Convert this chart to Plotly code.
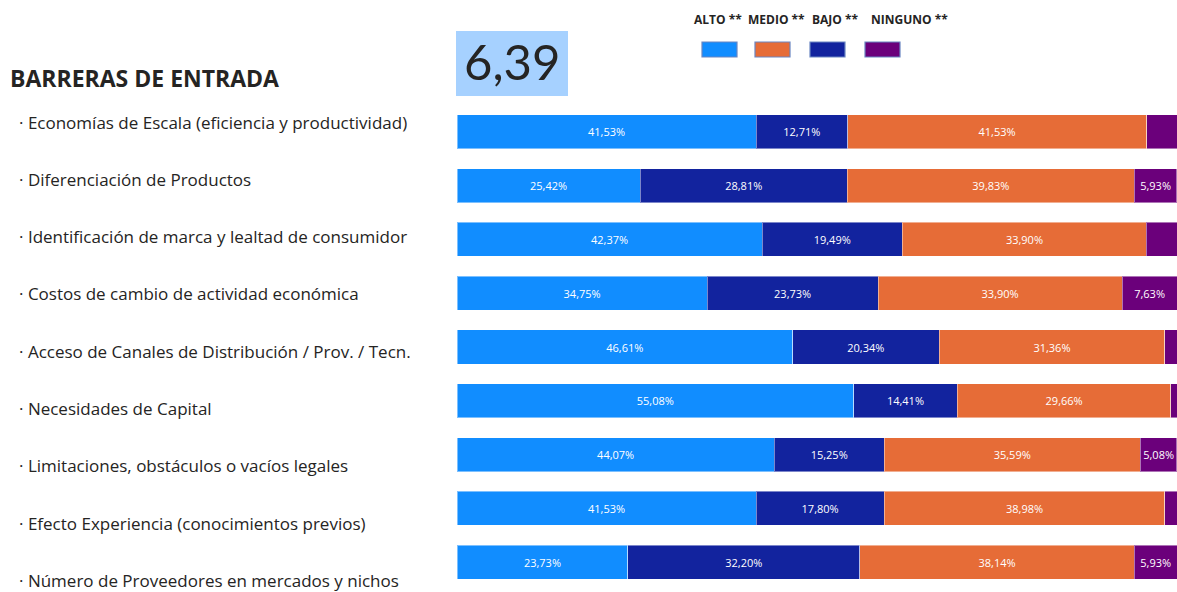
import plotly.graph_objects as go

# ---------------- data ----------------
categories = [
    "Economías de Escala (eficiencia y productividad)",
    "Diferenciación de Productos",
    "Identificación de marca y lealtad de consumidor",
    "Costos de cambio de actividad económica",
    "Acceso de Canales de Distribución / Prov. / Tecn.",
    "Necesidades de Capital",
    "Limitaciones, obstáculos o vacíos legales",
    "Efecto Experiencia (conocimientos previos)",
    "Número de Proveedores en mercados y nichos",
]
alto = [41.53, 25.42, 42.37, 34.75, 46.61, 55.08, 44.07, 41.53, 23.73]
bajo = [12.71, 28.81, 19.49, 23.73, 20.34, 14.41, 15.25, 17.80, 32.20]
medio = [41.53, 39.83, 33.90, 33.90, 31.36, 29.66, 35.59, 38.98, 38.14]
ninguno = [4.23, 5.93, 4.24, 7.63, 1.69, 0.85, 5.08, 1.69, 5.93]
series_names = ["ALTO **", "BAJO **", "MEDIO **", "NINGUNO **"]
legend_order = ["ALTO **", "MEDIO **", "BAJO **", "NINGUNO **"]
title_text = "BARRERAS DE ENTRADA"
kpi_value = "6,39"

# ---------------- style ----------------
W, HGT = 1177, 592
L, R, T, B = 457, 0, 105, 3
PW, PH = W - L - R, HGT - T - B
colors = {"ALTO **": "#118DFF", "BAJO **": "#12239E", "MEDIO **": "#E66C37", "NINGUNO **": "#6B007B"}
FONT = "Open Sans"
TEXT_COLOR = "#252423"


def fx(px):
    return (px - L) / PW


def fy(py):
    return (HGT - B - py) / PH


def fmt(v):
    return (f"{v:.2f}%".replace(".", ",")) if v >= 5 else ""


fig = go.Figure()
for name, vals in zip(series_names, [alto, bajo, medio, ninguno]):
    fig.add_trace(go.Bar(
        y=categories, x=vals, orientation="h", name=name,
        marker=dict(color=colors[name], line=dict(color="rgba(255,255,255,0.45)", width=1)),
        text=[fmt(v) for v in vals], textposition="inside", insidetextanchor="middle",
        textangle=0, constraintext="none",
        textfont=dict(family=FONT, size=11, color="white"),
        width=0.633, showlegend=False, hoverinfo="skip",
    ))

annotations = []
shapes = []
# category labels on the left
for i, c in enumerate(categories):
    py = 122 + i * 57.3
    annotations.append(dict(
        xref="paper", yref="paper", x=fx(17), y=fy(py), xanchor="left", yanchor="middle",
        text="· " + c, showarrow=False,
        font=dict(family=FONT, size=17, color=TEXT_COLOR),
    ))
# title
annotations.append(dict(
    xref="paper", yref="paper", x=fx(8), y=fy(78), xanchor="left", yanchor="middle",
    text="<b>" + title_text + "</b>", showarrow=False,
    font=dict(family=FONT, size=23, color=TEXT_COLOR),
))
# KPI card
shapes.append(dict(type="rect", xref="paper", yref="paper",
                   x0=fx(456), x1=fx(568), y0=fy(96), y1=fy(31),
                   fillcolor="#A6D1FF", line=dict(width=0), layer="below"))
annotations.append(dict(
    xref="paper", yref="paper", x=fx(512), y=fy(61), xanchor="center", yanchor="middle",
    text=kpi_value, showarrow=False,
    font=dict(family="Lato", size=49, color=TEXT_COLOR),
))
# custom legend: labels above swatches
leg_text_x = [692, 746, 810, 869]
leg_box_x = [702, 755, 810, 865]
for name, tx, bx in zip(legend_order, leg_text_x, leg_box_x):
    annotations.append(dict(
        xref="paper", yref="paper", x=fx(tx), y=fy(20), xanchor="left", yanchor="middle",
        text="<b>" + name + "</b>", showarrow=False,
        font=dict(family=FONT, size=12, color=TEXT_COLOR),
    ))
    shapes.append(dict(type="rect", xref="paper", yref="paper",
                       x0=fx(bx), x1=fx(bx + 35), y0=fy(57), y1=fy(42),
                       fillcolor=colors[name], line=dict(color="#6A86C2", width=1.2)))

fig.update_layout(
    width=W, height=HGT, barmode="stack",
    margin=dict(l=L, r=R, t=T, b=B, autoexpand=False),
    paper_bgcolor="white", plot_bgcolor="white",
    xaxis=dict(range=[0, 100], visible=False, fixedrange=True),
    yaxis=dict(autorange="reversed", visible=False, fixedrange=True),
    annotations=annotations, shapes=shapes,
    uniformtext=dict(mode="show", minsize=8),
)

fig.write_html("out.html", config={"displayModeBar": False})
